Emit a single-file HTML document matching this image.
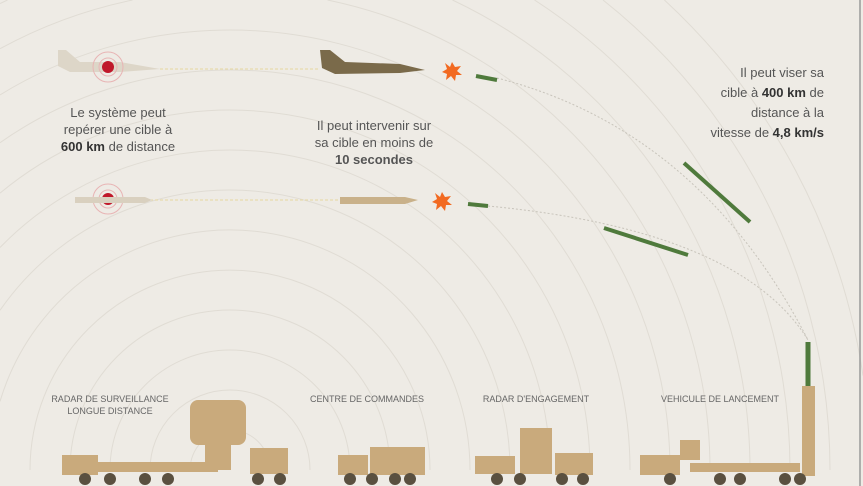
<!DOCTYPE html>
<html><head><meta charset="utf-8"><style>
html,body{margin:0;padding:0;width:863px;height:486px;overflow:hidden;background:#eeebe5;}
svg{display:block}
text{font-family:"Liberation Sans",sans-serif;fill:#555}
.t{font-size:13px;text-anchor:middle}
.l{font-size:9px;text-anchor:middle;fill:#666}
</style></head><body>
<svg width="863" height="486" viewBox="0 0 863 486">
<rect width="863" height="486" fill="#eeebe5"/>
<g fill="none" stroke="#e0dcd4" stroke-width="1">
<path d="M190 470 A40 40 0 0 1 270 470"/>
<path d="M150 470 A80 80 0 0 1 310 470"/>
<path d="M110 470 A120 120 0 0 1 350 470"/>
<path d="M70 470 A160 160 0 0 1 390 470"/>
<path d="M30 470 A200 200 0 0 1 430 470"/>
<path d="M0 401.4 A240 240 0 0 1 470 470"/>
<path d="M0 310.3 A280 280 0 0 1 510 470"/>
<path d="M0 247.5 A320 320 0 0 1 550 470"/>
<path d="M0 193.1 A360 360 0 0 1 590 470"/>
<path d="M0 142.7 A400 400 0 0 1 630 470"/>
<path d="M0 94.9 A440 440 0 0 1 670 470"/>
<path d="M0 48.7 A480 480 0 0 1 132.5 0"/><path d="M327.5 0 A480 480 0 0 1 710 470"/>
<path d="M0 3.6 A520 520 0 0 1 7.5 0"/><path d="M452.5 0 A520 520 0 0 1 750 470"/>
<path d="M534.5 0 A560 560 0 0 1 790 470"/>
<path d="M603 0 A600 600 0 0 1 830 470"/>
<path d="M664.4 0 A640 640 0 0 1 863 375.6"/>
</g>
<line x1="860" y1="0" x2="860" y2="486" stroke="#999" stroke-width="1.5"/>
<line x1="160" y1="69" x2="320" y2="69" stroke="#e6d7a0" stroke-dasharray="3 2"/>
<line x1="145" y1="200" x2="340" y2="200" stroke="#e6d7a0" stroke-dasharray="3 2"/>
<path d="M497 78 Q700 130 808 340" fill="none" stroke="#c8c4bb" stroke-dasharray="2 2"/>
<path d="M488 206 Q740 230 808 340" fill="none" stroke="#c8c4bb" stroke-dasharray="2 2"/>
<path d="M58 50 L66 50 L80 62 L120 62 L160 69 L120 72 L70 72 L58 66 Z" fill="#ddd6c8"/>
<g fill="none" stroke="#e8b4b4"><circle cx="108" cy="67" r="9"/><circle cx="108" cy="67" r="15"/><circle cx="108" cy="199" r="9"/><circle cx="108" cy="199" r="15"/></g>
<circle cx="108" cy="67" r="6" fill="#c0182a"/><circle cx="108" cy="199" r="6" fill="#c0182a"/>
<path d="M75 197 L145 197 L152 200 L145 203 L75 203 Z" fill="#d9d0bf"/>
<path d="M320 50 L330 50 L345 62 L400 64 L425 70 L400 73 L335 74 L322 68 Z" fill="#7a6a4a"/>
<path d="M340 197 L405 197 L418 200 L405 204 L340 204 Z" fill="#c9b18a"/>
<g fill="#f26a21"><polygon points="452,62 455,67 461,66 457,71 462,75 456,75 455,81 451,76 446,80 447,74 442,72 447,69 445,63 450,67"/>
<polygon points="442,192 445,197 451,196 447,201 452,205 446,205 445,211 441,206 436,210 437,204 432,202 437,199 435,193 440,197"/></g>
<g fill="#4f7a3c" stroke="#4f7a3c">
<line x1="476" y1="76" x2="497" y2="80" stroke-width="4"/>
<line x1="468" y1="204" x2="488" y2="206" stroke-width="4"/>
<line x1="604" y1="228" x2="688" y2="255" stroke-width="4"/>
<line x1="684" y1="163" x2="750" y2="222" stroke-width="4"/>
<line x1="808" y1="342" x2="808" y2="386" stroke-width="5"/>
</g>
<text class="t" x="118" y="117">Le système peut</text>
<text class="t" x="118" y="134">repérer une cible à</text>
<text class="t" x="118" y="151"><tspan font-weight="bold" fill="#333">600 km</tspan> de distance</text>
<text class="t" x="374" y="130">Il peut intervenir sur</text>
<text class="t" x="374" y="147">sa cible en moins de</text>
<text class="t" x="374" y="164" font-weight="bold" fill="#333">10 secondes</text>
<text x="824" y="77" font-size="13" text-anchor="end">Il peut viser sa</text>
<text x="824" y="97" font-size="13" text-anchor="end">cible à <tspan font-weight="bold" fill="#333">400 km</tspan> de</text>
<text x="824" y="117" font-size="13" text-anchor="end">distance à la</text>
<text x="824" y="137" font-size="13" text-anchor="end">vitesse de <tspan font-weight="bold" fill="#333">4,8 km/s</tspan></text>
<text class="l" x="110" y="402">RADAR DE SURVEILLANCE</text>
<text class="l" x="110" y="414">LONGUE DISTANCE</text>
<text class="l" x="367" y="402">CENTRE DE COMMANDES</text>
<text class="l" x="536" y="402">RADAR D'ENGAGEMENT</text>
<text class="l" x="720" y="402">VEHICULE DE LANCEMENT</text>
<g fill="#c9aa7c">
<rect x="62" y="455" width="36" height="20"/><rect x="98" y="462" width="120" height="10"/>
<rect x="190" y="400" width="56" height="45" rx="8"/><rect x="205" y="445" width="26" height="25"/>
<rect x="250" y="448" width="38" height="26"/>
<rect x="338" y="455" width="30" height="20"/><rect x="370" y="447" width="55" height="28"/>
<rect x="475" y="456" width="40" height="18"/><rect x="520" y="428" width="32" height="46"/><rect x="555" y="453" width="38" height="22"/>
<rect x="640" y="455" width="40" height="20"/><rect x="680" y="440" width="20" height="20"/><rect x="690" y="463" width="110" height="9"/>
<rect x="802" y="386" width="13" height="90"/>
</g>
<g fill="#5a5040">
<circle cx="85" cy="479" r="6"/><circle cx="110" cy="479" r="6"/><circle cx="145" cy="479" r="6"/><circle cx="168" cy="479" r="6"/><circle cx="258" cy="479" r="6"/><circle cx="280" cy="479" r="6"/>
<circle cx="350" cy="479" r="6"/><circle cx="372" cy="479" r="6"/><circle cx="395" cy="479" r="6"/><circle cx="410" cy="479" r="6"/>
<circle cx="497" cy="479" r="6"/><circle cx="520" cy="479" r="6"/><circle cx="562" cy="479" r="6"/><circle cx="583" cy="479" r="6"/>
<circle cx="670" cy="479" r="6"/><circle cx="720" cy="479" r="6"/><circle cx="740" cy="479" r="6"/><circle cx="785" cy="479" r="6"/><circle cx="800" cy="479" r="6"/>
</g>
</svg>
</body></html>
